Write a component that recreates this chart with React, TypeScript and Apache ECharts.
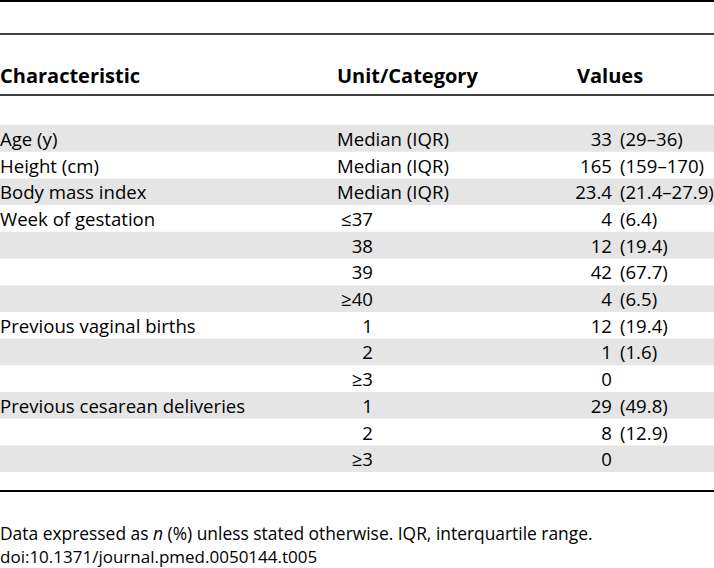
import React, { useEffect, useRef } from "react";
import * as echarts from "echarts";

const headers = ["Characteristic", "Unit/Category", "Values"];
const characteristics = [
  "Age (y)", "Height (cm)", "Body mass index", "Week of gestation", "", "", "",
  "Previous vaginal births", "", "", "Previous cesarean deliveries", "", "",
];
const categories = [
  "Median (IQR)", "Median (IQR)", "Median (IQR)", "≤37", "38", "39", "≥40",
  "1", "2", "≥3", "1", "2", "≥3",
];
const counts = ["33", "165", "23.4", "4", "12", "42", "4", "12", "1", "0", "29", "8", "0"];
const details = [
  "(29–36)", "(159–170)", "(21.4–27.9)", "(6.4)", "(19.4)", "(67.7)", "(6.5)",
  "(19.4)", "(1.6)", "", "(49.8)", "(12.9)", "",
];
const footnote1a = "Data expressed as ";
const footnote1b = "n";
const footnote1c = " (%) unless stated otherwise. IQR, interquartile range.";
const footnote2 = "doi:10.1371/journal.pmed.0050144.t005";

const W = 714;
const FONT = "'Open Sans', sans-serif";

function measure(text: string, font: string): number {
  const c = document.createElement("canvas");
  const ctx = c.getContext("2d");
  if (!ctx) return text.length * 8;
  ctx.font = font;
  return ctx.measureText(text).width;
}

export default function App() {
  const ref = useRef<HTMLDivElement>(null);
  useEffect(() => {
    if (!ref.current) return;
    const chart = echarts.init(ref.current, null, { renderer: "svg" });
    const rowTop = 125;
    const rowH = 26.7;
    const fs = 18.6;
    const els: any[] = [];
    characteristics.forEach((_, i) => {
      if (i % 2 === 0) {
        els.push({
          type: "rect",
          shape: { x: 0, y: rowTop + i * rowH, width: W, height: rowH },
          style: { fill: "#e5e5e5" },
        });
      }
    });
    const lines: [number, number][] = [[1, 2], [34, 1.5], [95, 1.5], [491, 2]];
    lines.forEach(([y, w]) => {
      els.push({
        type: "line",
        shape: { x1: 0, y1: y, x2: W, y2: y },
        style: { stroke: "#000", lineWidth: w },
      });
    });
    const hx = [0, 337, 577];
    headers.forEach((h, i) => {
      els.push({
        type: "text",
        x: hx[i],
        y: 75,
        style: {
          text: h, fill: "#000", font: `bold 20px ${FONT}`,
          textAlign: "left", textVerticalAlign: "middle",
        },
      });
    });
    characteristics.forEach((c, i) => {
      const cy = rowTop + i * rowH + rowH / 2;
      if (c) {
        els.push({
          type: "text", x: 0, y: cy,
          style: { text: c, fill: "#000", font: `${fs}px ${FONT}`, textAlign: "left", textVerticalAlign: "middle" },
        });
      }
      const cat = categories[i];
      const isMedian = cat.startsWith("Median");
      els.push({
        type: "text", x: isMedian ? 337 : 373, y: cy,
        style: { text: cat, fill: "#000", font: `${fs}px ${FONT}`, textAlign: isMedian ? "left" : "right", textVerticalAlign: "middle" },
      });
      els.push({
        type: "text", x: 612, y: cy,
        style: { text: counts[i], fill: "#000", font: `${fs}px ${FONT}`, textAlign: "right", textVerticalAlign: "middle" },
      });
      if (details[i]) {
        els.push({
          type: "text", x: 620, y: cy,
          style: { text: details[i], fill: "#000", font: `${fs}px ${FONT}`, textAlign: "left", textVerticalAlign: "middle" },
        });
      }
    });
    const ffs = 17.4;
    const fReg = `${ffs}px ${FONT}`;
    const fIt = `italic ${ffs}px ${FONT}`;
    const wA = measure(footnote1a, fReg);
    const wB = measure(footnote1b, fIt);
    const fy1 = 533;
    els.push({
      type: "text", x: 0, y: fy1,
      style: { text: footnote1a, fill: "#000", font: fReg, textAlign: "left", textVerticalAlign: "middle" },
    });
    els.push({
      type: "text", x: wA, y: fy1,
      style: { text: footnote1b, fill: "#000", font: fIt, textAlign: "left", textVerticalAlign: "middle" },
    });
    els.push({
      type: "text", x: wA + wB, y: fy1,
      style: { text: footnote1c, fill: "#000", font: fReg, textAlign: "left", textVerticalAlign: "middle" },
    });
    els.push({
      type: "text", x: 0, y: 556,
      style: { text: footnote2, fill: "#000", font: `17px ${FONT}`, textAlign: "left", textVerticalAlign: "middle" },
    });
    chart.setOption({ animation: false, backgroundColor: "#fff", graphic: { elements: els } });
    return () => chart.dispose();
  }, []);
  return (
    <div
      ref={ref}
      style={{ position: "fixed", left: 0, top: 0, width: W, height: 568, background: "#fff" }}
    />
  );
}
